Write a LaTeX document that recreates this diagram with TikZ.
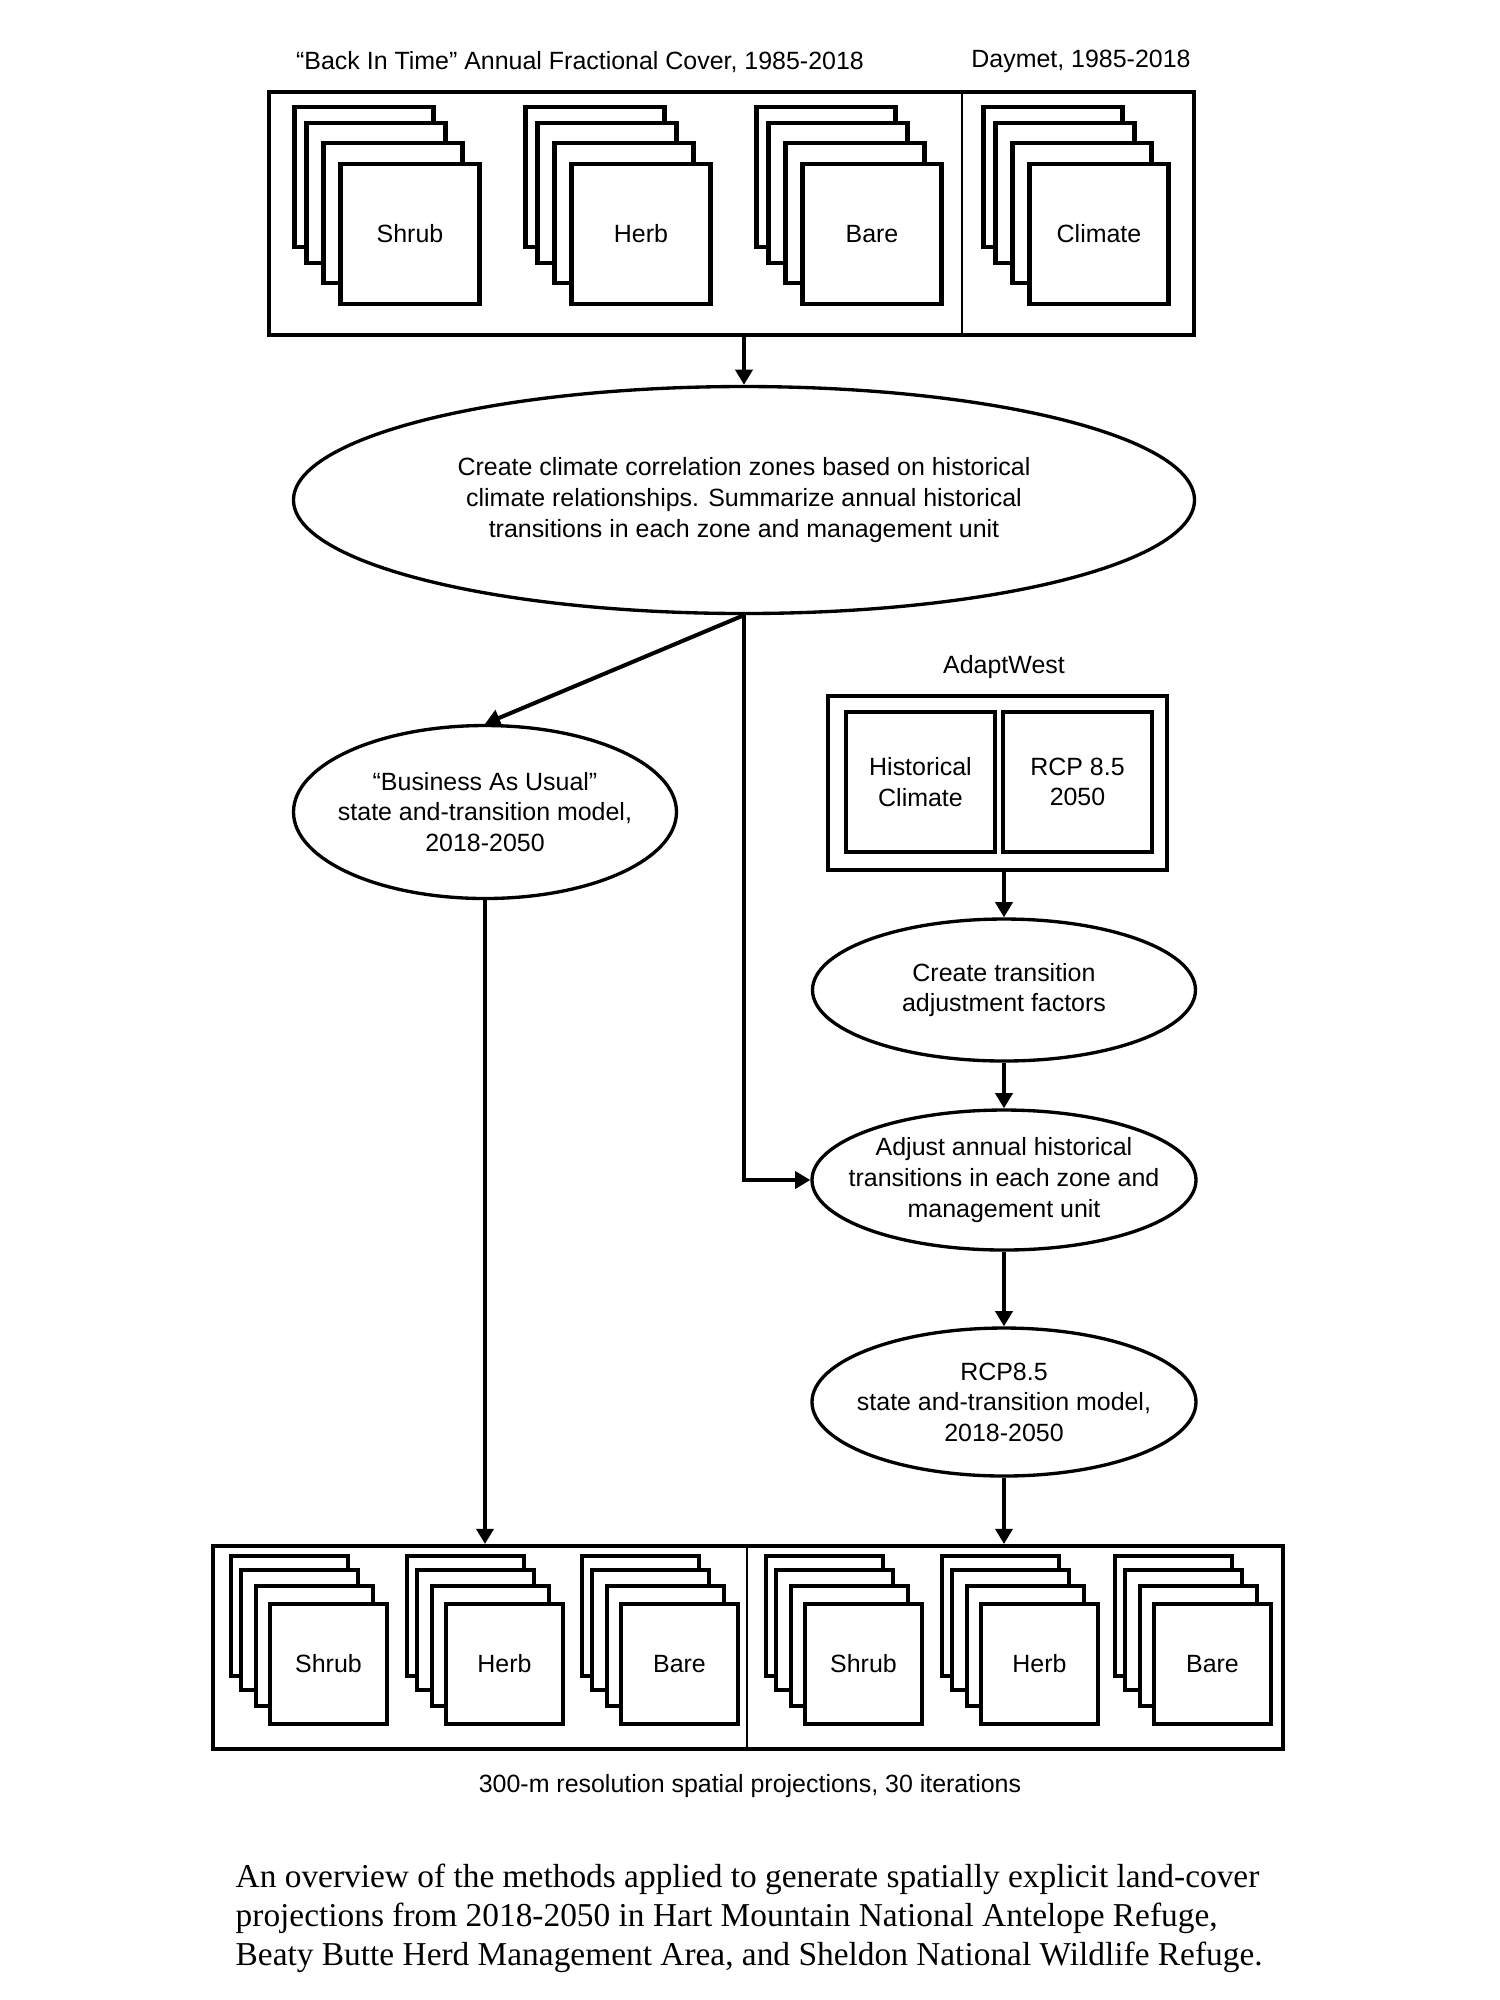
\documentclass[tikz,border=0pt]{standalone}
\usepackage{fontspec}
\setmainfont{Liberation Serif}
\setsansfont{Liberation Sans}
\usetikzlibrary{shapes.geometric,arrows.meta,positioning}

\tikzset{
  layer/.style={draw, fill=white, line width=1.15pt, inner sep=0pt,
    minimum width=1.39cm, minimum height=1.40cm},
  smalllayer/.style={layer, minimum width=1.17cm, minimum height=1.20cm},
  group/.style={draw, line width=1.15pt, inner sep=0pt},
  source/.style={draw, line width=1.15pt, inner sep=0pt, align=center,
    minimum width=1.49cm, minimum height=1.40cm},
  process/.style={draw, ellipse, line width=0.95pt, inner xsep=-1.5cm,
    inner ysep=-0.5cm, align=center},
  divider/.style={line width=0.5pt},
  flow/.style={-{Triangle[length=4.3pt,width=4.8pt]}, line width=1.15pt},
}

% stack of yearly layers: style, name, position, label, scale
\newcommand{\layerstack}[5]{%
  \begin{scope}[shift={#3}]
    \foreach \dx/\dy in {-46/-57,-34/-41,-17/-21}
      \node[#1] at (#5*\dx,#5*\dy) {};
    \node[#1] (#2) at (0,0) {#4};
  \end{scope}
}

\begin{document}
\begin{tikzpicture}[x=0.1mm, y=-0.1mm, font=\sffamily\fontsize{7.1}{8.7}\selectfont]
  \useasboundingbox (0,0) rectangle (1500,2000);

  % Input layers
  \node (bitlabel) at (580,62) {“Back In Time” Annual Fractional Cover, 1985-2018};
  \node (daylabel) at (1081,61) {Daymet, 1985-2018};
  \node[group, minimum width=9.25cm, minimum height=2.43cm] (cover) at (731.5,213.5) {};
  \draw[divider] (962,92) -- (962,335);
  \layerstack{layer}{shrub}{(410,234)}{Shrub}{1}
  \layerstack{layer}{herb}{(641,234)}{Herb}{1}
  \layerstack{layer}{bare}{(872,234)}{Bare}{1}
  \layerstack{layer}{climate}{(1099,234)}{Climate}{1}

  % Processing steps
  \node[process, minimum width=9.01cm, minimum height=2.27cm] (main) at (744,500)
    {Create climate correlation zones based on historical\\
     climate relationships. Summarize annual historical\\
     transitions in each zone and management unit};
  \node[process, minimum width=3.83cm, minimum height=1.73cm] (bau) at (485,812)
    {“Business As Usual”\\ state and-transition model,\\ 2018-2050};

  % Climate projections
  \node (adaptlabel) at (1004,667) {AdaptWest};
  \node[group, minimum width=3.39cm, minimum height=1.74cm] (adapt) at (997.5,783) {};
  \node[source] (hist) at (920.5,782) {Historical\\ Climate};
  \node[source] (future) at (1077.5,782) {RCP 8.5\\ 2050};

  \node[process, minimum width=3.83cm, minimum height=1.42cm] (trans) at (1004,990)
    {Create transition\\ adjustment factors};
  \node[process, minimum width=3.84cm, minimum height=1.40cm] (adj) at (1004,1180)
    {Adjust annual historical\\ transitions in each zone and\\ management unit};
  \node[process, minimum width=3.84cm, minimum height=1.48cm] (rcp) at (1004,1402)
    {RCP8.5\\ state and-transition model,\\ 2018-2050};

  % Output projections
  \node[group, minimum width=10.70cm, minimum height=2.03cm] (proj) at (748,1647.5) {};
  \draw[divider] (747,1546) -- (747,1749);
  \layerstack{smalllayer}{bshrub}{(328.5,1664)}{Shrub}{0.84}
  \layerstack{smalllayer}{bherb}{(504.5,1664)}{Herb}{0.84}
  \layerstack{smalllayer}{bbare}{(679.5,1664)}{Bare}{0.84}
  \layerstack{smalllayer}{rshrub}{(863.5,1664)}{Shrub}{0.84}
  \layerstack{smalllayer}{rherb}{(1039.5,1664)}{Herb}{0.84}
  \layerstack{smalllayer}{rbare}{(1212.5,1664)}{Bare}{0.84}
  \node (projlabel) at (750,1786) {300-m resolution spatial projections, 30 iterations};

  % Caption
  \node[anchor=west, align=left, inner sep=0pt, font=\rmfamily\fontsize{9.5}{11.1}\selectfont]
    (caption) at (235,1918)
    {An overview of the methods applied to generate spatially explicit land-cover\\
     projections from 2018-2050 in Hart Mountain National Antelope Refuge,\\
     Beaty Butte Herd Management Area, and Sheldon National Wildlife Refuge.};

  % Connectors
  \draw[flow] (cover.south -| main.north) -- (main.north);
  \draw[flow] (main.south) -- (bau.north);
  \draw[flow] (main.south) |- (adj.west);
  \draw[flow] (adapt.south -| trans.north) -- (trans.north);
  \draw[flow] (trans.south) -- (adj.north);
  \draw[flow] (adj.south) -- (rcp.north);
  \draw[flow] (bau.south) -- (bau.south |- proj.north);
  \draw[flow] (rcp.south) -- (rcp.south |- proj.north);

\end{tikzpicture}
\end{document}
